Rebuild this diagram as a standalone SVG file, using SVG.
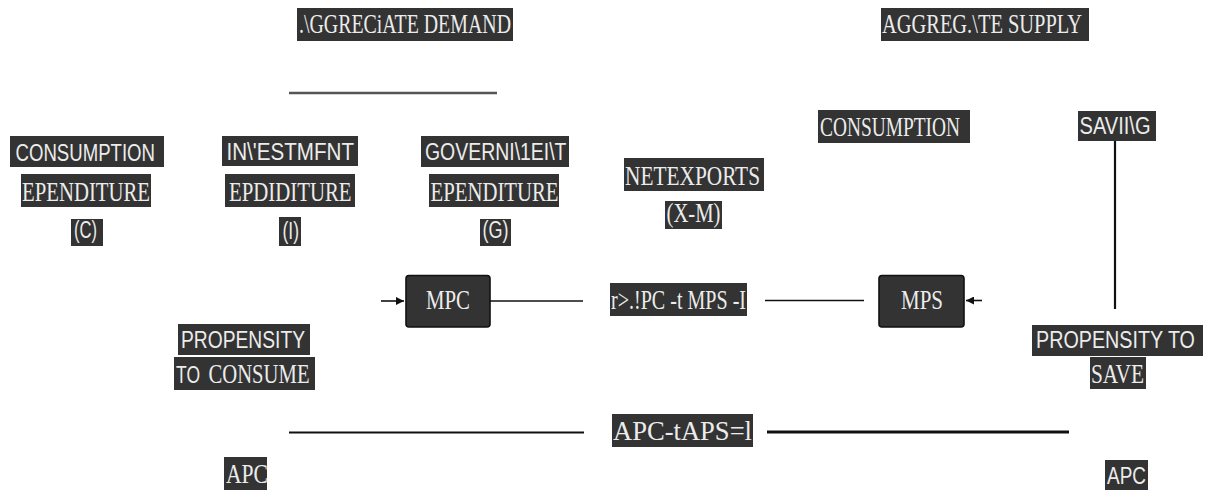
<svg xmlns="http://www.w3.org/2000/svg" width="1208" height="490" viewBox="0 0 1208 490">
<style>
.bx{fill:#333333}
.nd{fill:#333333;stroke:#111111;stroke-width:1.6}
.r{font-family:"Liberation Serif","Times New Roman",serif;font-size:28px;fill:#ececec}
.s{font-family:"Liberation Sans",Arial,sans-serif;font-size:23.5px;fill:#ececec}
.ln{stroke:#111111;stroke-width:1.6;fill:none}
</style>
<defs>
<marker id="ah" viewBox="0 0 10 10" refX="10" refY="5" markerWidth="8" markerHeight="8" markerUnits="userSpaceOnUse" orient="auto">
<path d="M0,0 L10,5 L0,10 z" fill="#111111"/>
</marker>
</defs>
<rect width="1208" height="490" fill="#ffffff"/>

<g id="connectors">
<line x1="289" y1="93" x2="497" y2="93" stroke="#555555" stroke-width="2.6"/>
<line class="ln" x1="381" y1="301" x2="404" y2="301" marker-end="url(#ah)"/>
<line class="ln" x1="490" y1="301" x2="583" y2="301"/>
<line class="ln" x1="765" y1="300.5" x2="864" y2="300.5"/>
<line class="ln" x1="982" y1="300.5" x2="966" y2="300.5" marker-end="url(#ah)"/>
<line x1="1115" y1="141" x2="1115" y2="309" stroke="#111111" stroke-width="2.2"/>
<line x1="289" y1="432.5" x2="584" y2="432.5" stroke="#111111" stroke-width="2.2"/>
<line x1="767" y1="432" x2="1069" y2="432" stroke="#111111" stroke-width="3"/>
</g>

<g id="aggregate-demand">
<rect class="bx" x="297" y="8" width="216" height="33"/>
<text class="r" x="299" y="32.5" textLength="212" lengthAdjust="spacingAndGlyphs">.\GGRECiATE DEMAND</text>
</g>
<g id="aggregate-supply">
<rect class="bx" x="881" y="8" width="208" height="33"/>
<text class="r" x="882" y="32.5" textLength="200" lengthAdjust="spacingAndGlyphs">AGGREG.\TE  SUPPLY</text>
</g>

<g id="consumption-expenditure">
<rect class="bx" x="10" y="136" width="154" height="31"/>
<text class="s" x="15.5" y="160.5" textLength="139.5" lengthAdjust="spacingAndGlyphs">CONSUMPTION</text>
<rect class="bx" x="21" y="174" width="130" height="33"/>
<text class="r" x="22" y="200.5" textLength="128" lengthAdjust="spacingAndGlyphs">EPENDITURE</text>
<rect class="bx" x="71" y="219" width="32" height="27"/>
<text class="s" x="74" y="238" font-size="21" textLength="23" lengthAdjust="spacingAndGlyphs">(C)</text>
</g>

<g id="investment-expenditure">
<rect class="bx" x="222" y="136" width="136" height="30"/>
<text class="s" x="226.5" y="159.5" textLength="127.5" lengthAdjust="spacingAndGlyphs">IN\'ESTMFNT</text>
<rect class="bx" x="225" y="174" width="130" height="33"/>
<text class="r" x="229" y="200.5" textLength="122.5" lengthAdjust="spacingAndGlyphs">EPDIDITURE</text>
<rect class="bx" x="279" y="217" width="22" height="29"/>
<text class="s" x="282.5" y="239" font-size="22" textLength="16.5" lengthAdjust="spacingAndGlyphs">(I)</text>
</g>

<g id="government-expenditure">
<rect class="bx" x="421" y="136" width="148" height="31"/>
<text class="s" x="425" y="160" textLength="141.5" lengthAdjust="spacingAndGlyphs">GOVERNI\1EI\T</text>
<rect class="bx" x="429" y="174" width="130" height="33"/>
<text class="r" x="430.5" y="200.5" textLength="128" lengthAdjust="spacingAndGlyphs">EPENDITURE</text>
<rect class="bx" x="480" y="219" width="31" height="27"/>
<text class="s" x="482.5" y="238" font-size="21" textLength="26" lengthAdjust="spacingAndGlyphs">(G)</text>
</g>

<g id="net-exports">
<rect class="bx" x="624" y="158" width="140" height="33"/>
<text class="r" x="625" y="184.5" textLength="135" lengthAdjust="spacingAndGlyphs">NETEXPORTS</text>
<rect class="bx" x="665" y="201" width="57" height="28"/>
<text class="r" x="666.5" y="222" font-size="25" textLength="54" lengthAdjust="spacingAndGlyphs">(X-M)</text>
</g>

<g id="consumption">
<rect class="bx" x="818" y="110" width="152" height="33"/>
<text class="r" x="820" y="135.5" textLength="140" lengthAdjust="spacingAndGlyphs">CONSUMPTION</text>
</g>

<g id="saving">
<rect class="bx" x="1078" y="111" width="78" height="30"/>
<text class="s" x="1079.5" y="134" textLength="71" lengthAdjust="spacingAndGlyphs">SAVII\G</text>
</g>

<g id="mpc">
<rect class="nd" x="406" y="275.5" width="84" height="51.5" rx="3"/>
<text class="r" x="448" y="309" font-size="24" text-anchor="middle" textLength="44" lengthAdjust="spacingAndGlyphs">MPC</text>
</g>

<g id="mpc-mps-sum">
<rect class="bx" x="610" y="283" width="137" height="33"/>
<text class="r" x="611" y="308.5" font-size="25" textLength="135" lengthAdjust="spacingAndGlyphs">r&gt;.!PC -t MPS -I</text>
</g>

<g id="mps">
<rect class="nd" x="879" y="275.5" width="85" height="51.5" rx="3"/>
<text class="r" x="922" y="309" font-size="24" text-anchor="middle" textLength="42" lengthAdjust="spacingAndGlyphs">MPS</text>
</g>

<g id="propensity-to-consume">
<rect class="bx" x="178" y="324" width="132" height="31"/>
<text class="s" x="181" y="347.5" textLength="124" lengthAdjust="spacingAndGlyphs">PROPENSITY</text>
<rect class="bx" x="174" y="357" width="141" height="33"/>
<text class="s" x="176" y="382.5" textLength="24" lengthAdjust="spacingAndGlyphs">TO</text>
<text class="r" x="208.5" y="382.5" textLength="101" lengthAdjust="spacingAndGlyphs">CONSUME</text>
</g>

<g id="propensity-to-save">
<rect class="bx" x="1032" y="325" width="171" height="31"/>
<text class="s" transform="translate(1036,347.5) scale(0.84,1)" x="0" y="0">PROPENSITY  TO</text>
<rect class="bx" x="1090" y="357" width="56" height="32"/>
<text class="r" x="1091" y="382.5" textLength="53" lengthAdjust="spacingAndGlyphs">SAVE</text>
</g>

<g id="apc-aps-sum">
<rect class="bx" x="612" y="414" width="141" height="33"/>
<text class="r" x="613" y="439.5" textLength="139" lengthAdjust="spacingAndGlyphs">APC-tAPS=l</text>
</g>

<g id="apc-left">
<rect class="bx" x="224" y="457" width="43" height="33"/>
<text class="r" x="226" y="482.5" textLength="42" lengthAdjust="spacingAndGlyphs">APC</text>
</g>

<g id="apc-right">
<rect class="bx" x="1105" y="460" width="43" height="30"/>
<text class="s" x="1107" y="483.5" font-size="22" textLength="39" lengthAdjust="spacingAndGlyphs">APC</text>
</g>
</svg>
